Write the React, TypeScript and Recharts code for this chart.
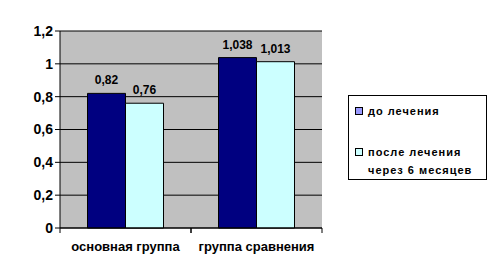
import { BarChart, Bar, XAxis, YAxis, CartesianGrid, LabelList } from 'recharts';

const categories = ['основная группа', 'группа сравнения'];
const beforeValues = [0.82, 1.038];
const afterValues = [0.76, 1.013];
const yTicks = [0, 0.2, 0.4, 0.6, 0.8, 1, 1.2];

const data = categories.map((name, i) => ({
  name,
  before: beforeValues[i],
  after: afterValues[i],
}));

const FONT = '"Liberation Sans", Arial, sans-serif';
const comma = (v: unknown) => String(v).replace('.', ',');

// category ticks: label in the middle, tick marks on band edges
function CategoryTick(props: any) {
  const { x, y, payload } = props;
  const half = 65.5;
  return (
    <g>
      <line x1={x - half} y1={y} x2={x - half} y2={y + 5} stroke="#000" />
      <line x1={x + half} y1={y} x2={x + half} y2={y + 5} stroke="#000" />
      <text x={x} y={y + 23} textAnchor="middle" fontFamily={FONT} fontSize={13} fontWeight={700} fill="#000">
        {payload.value}
      </text>
    </g>
  );
}

function LegendBox() {
  const text = { fontFamily: FONT, fontSize: 11, fontWeight: 700, letterSpacing: 1, color: '#000', lineHeight: '18px' };
  const sw = (c: string) => ({ width: 6, height: 6, background: c, border: '1px solid #000', marginRight: 5, marginTop: 5, flex: 'none' });
  return (
    <div style={{ position: 'absolute', left: 348, top: 95, width: 139, height: 85, border: '1px solid #000', background: '#fff', boxSizing: 'border-box', padding: '6px 0 0 6px' }}>
      <div style={{ display: 'flex', alignItems: 'flex-start' }}>
        <div style={sw('#9999ff')} />
        <span style={text}>до лечения</span>
      </div>
      <div style={{ display: 'flex', alignItems: 'flex-start', marginTop: 23 }}>
        <div style={sw('#ccffff')} />
        <span style={text}>после лечения<br />через 6 месяцев</span>
      </div>
    </div>
  );
}

export default function App() {
  return (
    <div style={{ position: 'absolute', left: 0, top: 0, width: 496, height: 275, background: '#fff' }}>
      <BarChart
        width={496}
        height={275}
        data={data}
        margin={{ top: 31, right: 174, bottom: 17, left: 0 }}
        barCategoryGap="21%"
        barGap={0}
      >
        <CartesianGrid vertical={false} fill="#c0c0c0" fillOpacity={1} stroke="#000" strokeOpacity={1} />
        <XAxis
          dataKey="name"
          height={30}
          axisLine={{ stroke: '#000' }}
          tickLine={false}
          tickSize={0}
          tickMargin={0}
          tick={<CategoryTick />}
          interval={0}
        />
        <YAxis
          width={60}
          domain={[0, 1.2]}
          ticks={yTicks}
          interval={0}
          axisLine={{ stroke: '#000' }}
          tickLine={{ stroke: '#000' }}
          tickSize={5}
          tickMargin={2}
          tickFormatter={comma}
          tick={{ fill: '#000', fontFamily: FONT, fontSize: 14, fontWeight: 700 }}
        />
        <Bar dataKey="before" name="до лечения" fill="#000080" stroke="#000" strokeWidth={1} isAnimationActive={false}>
          <LabelList dataKey="before" position="top" offset={9} formatter={comma} style={{ fill: '#000', fontFamily: FONT, fontSize: 12, fontWeight: 700 }} />
        </Bar>
        <Bar dataKey="after" name="после лечения через 6 месяцев" fill="#ccffff" stroke="#000" strokeWidth={1} isAnimationActive={false}>
          <LabelList dataKey="after" position="top" offset={9} formatter={comma} style={{ fill: '#000', fontFamily: FONT, fontSize: 12, fontWeight: 700 }} />
        </Bar>
      </BarChart>
      <LegendBox />
    </div>
  );
}
